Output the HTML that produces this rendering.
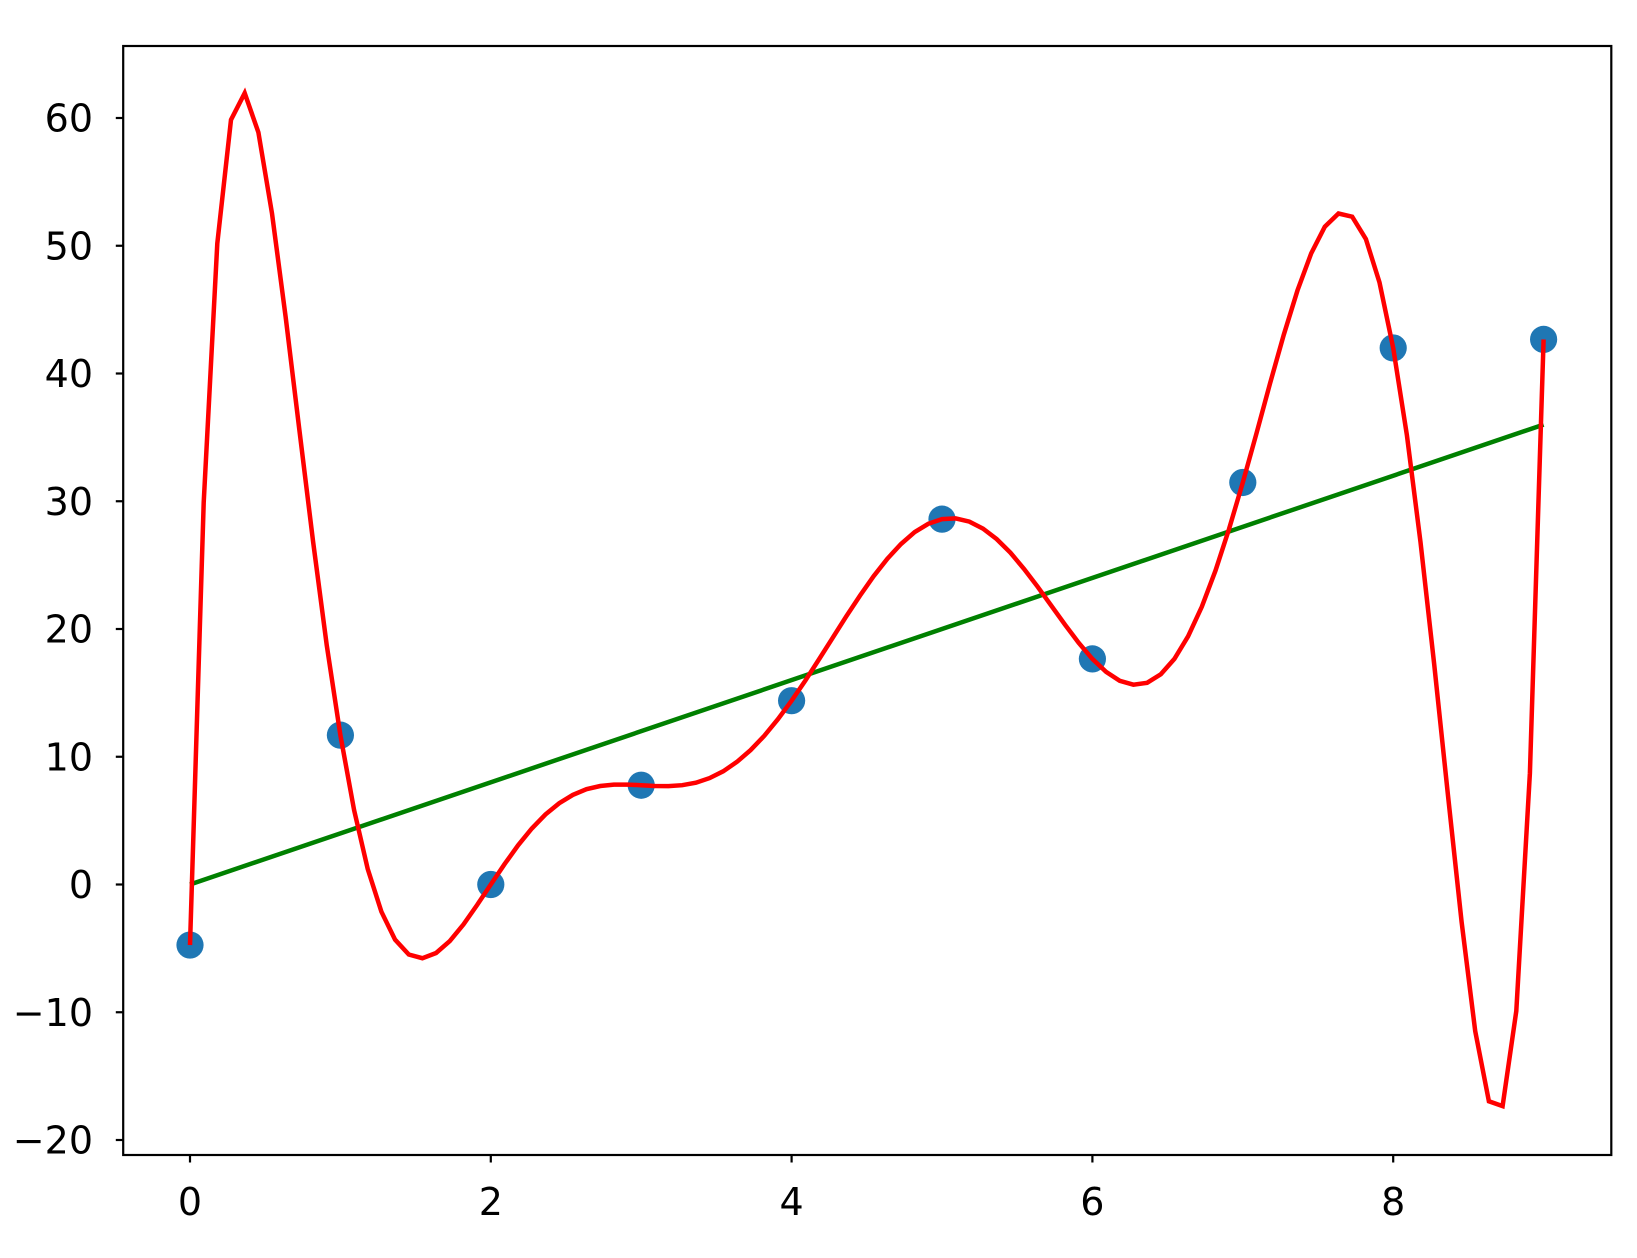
<!DOCTYPE html>
<html><head><meta charset="utf-8"><style>
body{margin:0;background:#fff}
text{font-family:"DejaVu Sans","Liberation Sans",sans-serif;font-size:38px;fill:#000}
</style></head><body>
<svg id="chart" width="1637" height="1253" xmlns="http://www.w3.org/2000/svg">
<rect x="0" y="0" width="1637" height="1253" fill="#fff"/>
<g id="xt"></g>
<g id="yt"></g>
<g id="plot"></g>
<rect x="123.2" y="46" width="1488.1" height="1109" fill="none" stroke="#000" stroke-width="2.2"/>
</svg>
<script>
const xs=[0,1,2,3,4,5,6,7,8,9];
const ys=[-4.74,11.69,0,7.77,14.39,28.6,17.66,31.47,42.0,42.67];
const fitSlope=4.0;
const fitIntercept=0.0;
const xTicks=[0,2,4,6,8];
const yTicks=[-20,-10,0,10,20,30,40,50,60];
const NS="http://www.w3.org/2000/svg";
const X=v=>190+v*150.4;
const Y=v=>884.5-v*12.775;
function mk(t,a,p){const e=document.createElementNS(NS,t);for(const k in a)e.setAttribute(k,a[k]);p.appendChild(e);return e;}
const xt=document.getElementById('xt'),yt=document.getElementById('yt'),plot=document.getElementById('plot');
xTicks.forEach(v=>{
 const l=mk('line',{x1:X(v),x2:X(v),y1:1155,y2:1162.5,stroke:'#000','stroke-width':2.2},xt);
 
 
 const t=mk('text',{x:X(v),y:1215,'text-anchor':'middle'},xt);t.textContent=String(v);
 
 
});
yTicks.forEach(v=>{
 const l=mk('line',{x1:115.8,x2:123.2,y1:Y(v),y2:Y(v),stroke:'#000','stroke-width':2.2},yt);
 
 
 const t=mk('text',{x:93,y:Y(v)+13.5,'text-anchor':'end'},yt);t.textContent=v<0?'\u2212'+(-v):String(v);
 
 
});
function interp(x){let s=0;for(let i=0;i<xs.length;i++){let p=ys[i];for(let j=0;j<xs.length;j++)if(j!==i)p*=(x-xs[j])/(xs[i]-xs[j]);s+=p;}return s;}
const x0=xs[0],x1=xs[xs.length-1];
const g=mk('line',{x1:X(x0),y1:Y(fitIntercept+fitSlope*x0),x2:X(x1),y2:Y(fitIntercept+fitSlope*x1),stroke:'#008000','stroke-width':4.5},plot);


let pts=[];for(let i=0;i<100;i++){const x=x0+(x1-x0)*i/99;pts.push(X(x).toFixed(1)+','+Y(interp(x)).toFixed(1));}
const r=mk('polyline',{points:pts.join(' '),fill:'none',stroke:'#ff0000','stroke-width':4.5},plot);


xs.forEach((x,i)=>{
 const c=mk('circle',{cx:X(x),cy:Y(ys[i]),r:13.6,fill:'#1f77b4'},plot);
 
 
});
plot.appendChild(r);
</script>
</body></html>
